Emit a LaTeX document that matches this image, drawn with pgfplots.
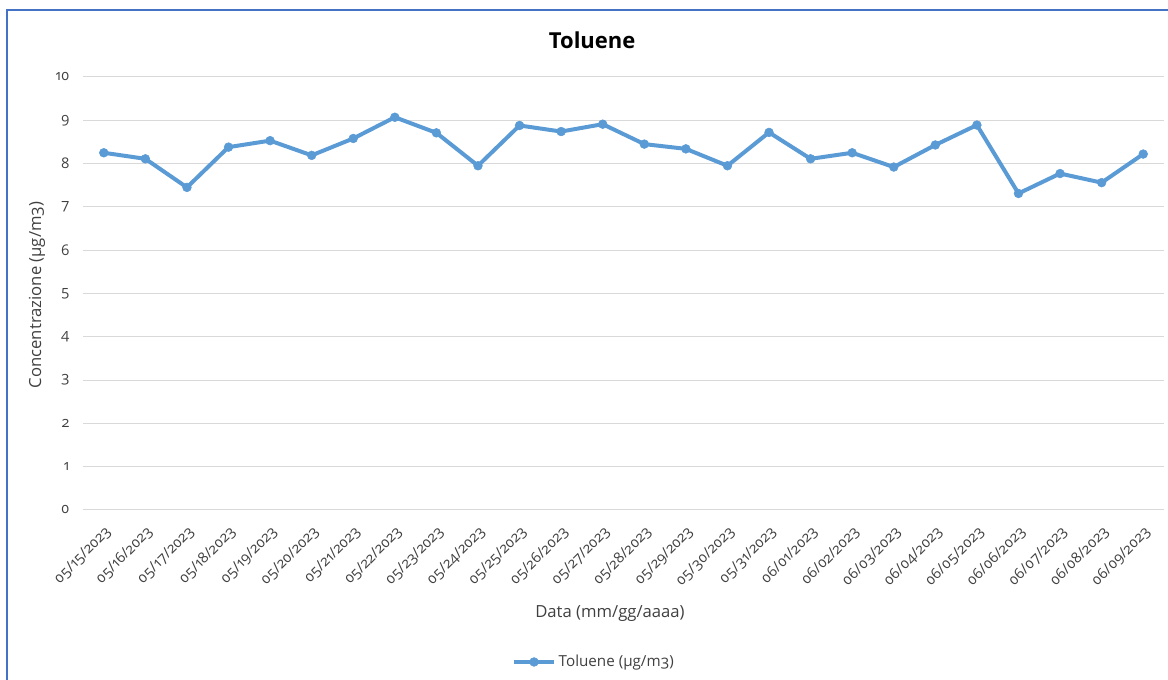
\documentclass[border=0pt]{standalone}
\usepackage{fontspec}
\setmainfont{Open Sans}[Numbers=OldStyle]
\usepackage{pgfplots}
\pgfplotsset{compat=1.18}
\definecolor{serie}{RGB}{91,155,213}
\definecolor{griglia}{RGB}{217,217,217}
\definecolor{testo}{RGB}{64,64,64}
\definecolor{cornice}{RGB}{68,114,196}

\pgfplotstableread{
x y
0 8.25
1 8.11
2 7.45
3 8.38
4 8.53
5 8.19
6 8.58
7 9.07
8 8.71
9 7.95
10 8.88
11 8.74
12 8.91
13 8.45
14 8.34
15 7.95
16 8.72
17 8.11
18 8.25
19 7.92
20 8.43
21 8.89
22 7.31
23 7.77
24 7.56
25 8.22
}\toluene

\begin{document}
\begin{tikzpicture}
  \path[use as bounding box] (0,0) rectangle (876pt,510pt);
  \begin{axis}[
    at={(62.25pt,127.5pt)}, anchor=south west,
    scale only axis, width=810.75pt, height=324.75pt,
    xmin=-0.5, xmax=25.5, ymin=0, ymax=10,
    xtick={0,...,25},
    xticklabels={05/15/2023,05/16/2023,05/17/2023,05/18/2023,05/19/2023,05/20/2023,
      05/21/2023,05/22/2023,05/23/2023,05/24/2023,05/25/2023,05/26/2023,05/27/2023,
      05/28/2023,05/29/2023,05/30/2023,05/31/2023,06/01/2023,06/02/2023,06/03/2023,
      06/04/2023,06/05/2023,06/06/2023,06/07/2023,06/08/2023,06/09/2023},
    ytick={0,1,...,10},
    /pgf/number format/assume math mode=true,
    axis line style={draw=none},
    major tick length=0pt,
    ymajorgrids, grid style={griglia, line width=0.75pt},
    tick label style={font=\fontsize{11}{12}\selectfont, color=testo},
    xticklabel style={anchor=east, inner sep=1pt, xshift=4.4pt, yshift=-14pt, rotate=45},
    yticklabel style={anchor=east, inner sep=0pt, xshift=-10pt},
    title={Toluene},
    title style={font=\fontsize{16.5}{18}\selectfont\bfseries, color=black,
      at={(axis description cs:0.471,1.067)}, anchor=center},
    xlabel={Data (mm/gg/aaaa)},
    xlabel style={font=\fontsize{12.5}{14}\selectfont, color=testo,
      at={(axis description cs:0.4875,-0.24)}, anchor=center},
    ylabel={Concentrazione (µg/m3)},
    ylabel style={font=\fontsize{12.5}{14}\selectfont, color=testo,
      at={(axis description cs:-0.0426,0.4965)}, anchor=center, rotate=0},
    legend style={draw=none, fill=none, font=\fontsize{11.4}{12}\selectfont,
      text=testo, at={(axis description cs:0.473,-0.351)}, anchor=center},
    legend image code/.code={
      \draw[mark repeat=2, mark phase=2, #1] plot coordinates {(0pt,0pt) (15pt,0pt) (30pt,0pt)};},
  ]
    \addplot[serie, line width=3pt, mark=*, mark size=3.3pt,
      mark options={solid, fill=serie, draw=serie, line width=0.4pt}]
      table[x=x, y=y] {\toluene};
    \addlegendentry{Toluene (µg/m3)}
  \end{axis}
  \draw[cornice, line width=1.5pt] (5.25pt,0pt) -- (5.25pt,502.5pt) -- (876pt,502.5pt);
\end{tikzpicture}
\end{document}
